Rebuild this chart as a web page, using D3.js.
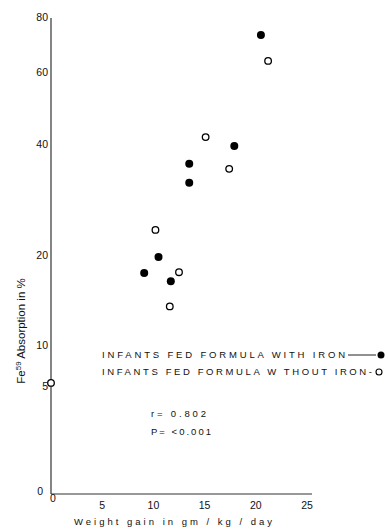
<!DOCTYPE html>
<html><head><meta charset="utf-8">
<script src="https://cdn.jsdelivr.net/npm/d3@7"></script>
<style>body{margin:0;background:#fff}svg{display:block}text{font-family:"Liberation Sans",Arial,sans-serif;fill:#111}</style>
</head><body><svg id="c" width="388" height="530"></svg>
<script>
const yTicks = [0, 5, 10, 20, 40, 60, 80];
const xTicks = [0, 5, 10, 15, 20, 25];
const withIronX = [20.5, 17.9, 13.5, 13.5, 10.5, 9.1, 11.7];
const withIronY = [73.8, 39.8, 36.6, 33.2, 19.9, 18.1, 17.2];
const withoutIronX = [21.2, 15.1, 17.4, 10.2, 12.5, 11.6, 0];
const withoutIronY = [64.4, 42.2, 35.7, 24.7, 18.2, 14.4, 5.5];
const legendLabels = ["INFANTS FED FORMULA WITH  IRON", "INFANTS FED FORMULA W THOUT IRON-"];
const statLabels = ["r=  0.802", "P= <0.001"];

const svg = d3.select("#c");
const x = d3.scaleLinear().domain([0, 25]).range([51, 307]);
// irregular hand-drawn vertical scale, piecewise by tick
const y = d3.scaleLinear().domain(yTicks).range([494, 387, 346, 256, 145, 73, 18]);

svg.append("line").attr("x1", x(0)).attr("x2", x(0)).attr("y1", y(80)).attr("y2", y(0))
  .attr("stroke", "#333").attr("stroke-width", 1.2);
svg.append("line").attr("x1", x(0)).attr("x2", 312).attr("y1", y(0)).attr("y2", y(0))
  .attr("stroke", "#333").attr("stroke-width", 1.2);

svg.selectAll(".yt").data(yTicks).enter().append("text")
  .attr("x", d => d === 0 ? 43 : 48).attr("y", d => d === 0 ? y(d) - 2 : y(d))
  .attr("text-anchor", "end").attr("dominant-baseline", "middle")
  .attr("font-size", 10.5).text(d => d);

svg.selectAll(".xt").data(xTicks).enter().append("text")
  .attr("x", d => d === 0 ? x(d) + 2 : x(d)).attr("y", d => d === 0 ? 499 : 506)
  .attr("text-anchor", "middle").attr("dominant-baseline", "middle")
  .attr("font-size", 10.5).text(d => d);

svg.append("text").attr("x", 173).attr("y", 522).attr("text-anchor", "middle")
  .attr("dominant-baseline", "middle").attr("font-size", 9.5)
  .attr("textLength", 198).attr("lengthAdjust", "spacing")
  .text("Weight  gain  in  gm / kg / day");

const yl = svg.append("text").attr("transform", "translate(25,331) rotate(-90)")
  .attr("text-anchor", "middle").attr("font-size", 11.5);
yl.append("tspan").text("Fe");
yl.append("tspan").attr("font-size", 8).attr("dy", -4).text("59");
yl.append("tspan").attr("dy", 4).text(" Absorption in %");

svg.selectAll(".f").data(withIronX).enter().append("circle")
  .attr("cx", (d) => x(d)).attr("cy", (d, i) => y(withIronY[i])).attr("r", 4)
  .attr("fill", "#000");
svg.selectAll(".o").data(withoutIronX).enter().append("circle")
  .attr("cx", (d) => x(d)).attr("cy", (d, i) => y(withoutIronY[i])).attr("r", 3.3)
  .attr("fill", "#fff").attr("stroke", "#000").attr("stroke-width", 1.3);

svg.append("text").attr("x", 102).attr("y", 355).attr("dominant-baseline", "middle")
  .attr("font-size", 9.5).attr("textLength", 243).attr("lengthAdjust", "spacing")
  .text(legendLabels[0]);
svg.append("line").attr("x1", 348).attr("x2", 376).attr("y1", 355).attr("y2", 355)
  .attr("stroke", "#222").attr("stroke-width", 1);
svg.append("circle").attr("cx", 381).attr("cy", 355).attr("r", 3.5).attr("fill", "#000");

svg.append("text").attr("x", 102).attr("y", 372).attr("dominant-baseline", "middle")
  .attr("font-size", 9.5).attr("textLength", 270).attr("lengthAdjust", "spacing")
  .text(legendLabels[1]);
svg.append("circle").attr("cx", 379).attr("cy", 372).attr("r", 3).attr("fill", "#fff")
  .attr("stroke", "#000").attr("stroke-width", 1.1);

svg.append("text").attr("x", 151).attr("y", 414).attr("dominant-baseline", "middle")
  .attr("font-size", 9.5).attr("textLength", 55).attr("lengthAdjust", "spacing").text(statLabels[0]);
svg.append("text").attr("x", 151).attr("y", 432).attr("dominant-baseline", "middle")
  .attr("font-size", 9.5).attr("textLength", 60).attr("lengthAdjust", "spacing").text(statLabels[1]);
</script></body></html>
